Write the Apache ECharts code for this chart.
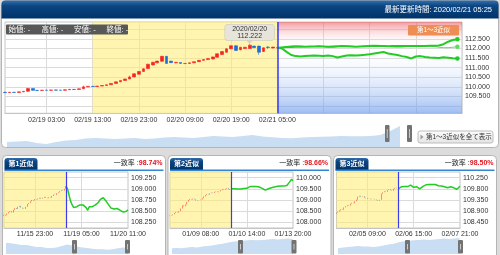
<!DOCTYPE html>
<html>
<head>
<meta charset="utf-8">
<script src="https://cdn.jsdelivr.net/npm/echarts@6/dist/echarts.min.js"></script>
<style>
html, body { margin: 0; padding: 0; background: #dcdcdc; }
#chart { width: 500px; height: 255px; }
</style>
</head>
<body>
<div id="chart"></div>
<script>
var chart = echarts.init(document.getElementById('chart'), null, { renderer: 'canvas' });

function pad(n) { return (n < 10 ? '0' : '') + n; }

// ---- main chart: hourly candles from 02/18 18:00 + forecast lines
var mainCats = [];
for (var h = 0; h < 100; h++) {
  var d = new Date(Date.UTC(2020, 1, 18, 18 + h));
  mainCats.push(pad(d.getUTCMonth() + 1) + '/' + pad(d.getUTCDate()) + ' ' + pad(d.getUTCHours()) + ':00');
}
var mainTickLabels = ['02/19 03:00', '02/19 13:00', '02/19 23:00', '02/20 09:00', '02/20 19:00', '02/21 05:00'];
var mainGridTimes = mainTickLabels.concat(['02/21 15:00', '02/22 01:00', '02/22 11:00', '02/22 21:00']);
var mainYTicks = [109.5, 110, 110.5, 111, 111.5, 112, 112.5];
var mainShadeFrom = '02/19 13:00';
var mainNow = '02/21 05:00';
var mainHigh = { time: '02/20 23:00', value: 112.222, date: '2020/02/20' };

// [open, close, low, high]
var mainOHLC = [
  [109.72, 109.70, 109.69, 109.74], [109.70, 109.72, 109.69, 109.73], [109.72, 109.71, 109.70, 109.73],
  [109.71, 109.74, 109.70, 109.75], [109.74, 109.77, 109.73, 109.78], [109.77, 109.92, 109.75, 109.94],
  [109.92, 109.82, 109.80, 109.93], [109.82, 109.81, 109.80, 109.83], [109.81, 109.83, 109.80, 109.84],
  [109.83, 109.82, 109.81, 109.84], [109.82, 109.84, 109.81, 109.85], [109.84, 109.83, 109.82, 109.85],
  [109.83, 109.82, 109.81, 109.84], [109.82, 109.85, 109.81, 109.86], [109.85, 109.87, 109.84, 109.88],
  [109.87, 109.86, 109.85, 109.89], [109.86, 109.90, 109.85, 109.91], [109.90, 110.00, 109.89, 110.06],
  [110.00, 110.03, 109.99, 110.04], [110.03, 110.02, 110.00, 110.04], [110.02, 110.04, 110.01, 110.05],
  [110.04, 110.07, 110.03, 110.08], [110.07, 110.11, 110.06, 110.12], [110.11, 110.18, 110.10, 110.19],
  [110.18, 110.26, 110.17, 110.27], [110.26, 110.33, 110.25, 110.34], [110.33, 110.41, 110.32, 110.42],
  [110.41, 110.52, 110.40, 110.58], [110.52, 110.68, 110.50, 110.70], [110.66, 110.80, 110.64, 110.82],
  [110.80, 110.94, 110.78, 110.96], [110.95, 111.18, 110.93, 111.20], [111.14, 111.28, 111.12, 111.30],
  [111.25, 111.34, 111.23, 111.36], [111.33, 111.59, 111.31, 111.61], [111.59, 111.22, 111.20, 111.61],
  [111.34, 111.26, 111.24, 111.36], [111.25, 111.28, 111.23, 111.29], [111.27, 111.22, 111.20, 111.28],
  [111.21, 111.22, 111.20, 111.23], [111.22, 111.25, 111.21, 111.26], [111.25, 111.31, 111.24, 111.32],
  [111.31, 111.38, 111.30, 111.40], [111.38, 111.42, 111.36, 111.44], [111.42, 111.47, 111.41, 111.49],
  [111.45, 111.56, 111.43, 111.57], [111.54, 111.72, 111.52, 111.74], [111.68, 111.84, 111.66, 111.86],
  [111.80, 111.98, 111.78, 112.00], [111.98, 112.14, 111.96, 112.16], [112.14, 111.89, 111.87, 112.16],
  [111.93, 112.06, 111.91, 112.08], [111.99, 112.06, 111.97, 112.08], [111.99, 112.17, 111.97, 112.222],
  [112.12, 112.04, 112.02, 112.14], [112.12, 111.80, 111.67, 112.14], [111.84, 112.03, 111.82, 112.05],
  [112.07, 112.05, 111.98, 112.12], [112.02, 112.07, 112.01, 112.08], [112.02, 112.04, 112.01, 112.05]
];

// forecast lines from 02/21 05:00
var mainLineA = [112.03, 112.05, 112.07, 112.08, 112.09, 112.10, 112.09, 112.10, 112.10, 112.11,
  112.10, 112.09, 112.10, 112.11, 112.12, 112.11, 112.10, 112.09, 112.10, 112.11,
  112.12, 112.12, 112.13, 112.12, 112.11, 112.12, 112.12, 112.13, 112.12, 112.12,
  112.13, 112.12, 112.13, 112.14, 112.14, 112.15, 112.22, 112.35, 112.44, 112.48];
var mainLineB = [112.03, 112.00, 111.82, 111.66, 111.60, 111.58, 111.60, 111.62, 111.63, 111.62,
  111.61, 111.63, 111.60, 111.53, 111.58, 111.63, 111.64, 111.63, 111.65, 111.67,
  111.70, 111.74, 111.78, 111.81, 111.74, 111.70, 111.66, 111.60, 111.55, 111.48,
  111.58, 111.60, 111.55, 111.53, 111.52, 111.50, 111.54, 111.52, 111.49, 111.47];
var mainLineC = [112.03, 112.06, 112.10, 112.14, 112.15, 112.12, 112.10, 112.08, 112.10, 112.12,
  112.10, 112.06, 112.05, 112.08, 112.12, 112.14, 112.12, 112.10, 112.11, 112.13,
  112.16, 112.17, 112.16, 112.14, 112.10, 112.07, 112.06, 112.07, 112.10, 112.12,
  112.12, 112.12, 112.13, 112.12, 112.10, 112.06, 112.04, 112.04, 112.06, 112.09];

var mainNav = [5, 5.5, 6, 4, 3, 5, 6.5, 7, 8.5, 9, 8.5, 8, 8.5, 9, 8, 8.5, 9.5, 10, 9.5, 9,
  10, 11, 10.5, 10, 11, 12, 10.5, 9.7, 9, 8.7, 9.5, 10, 10.3, 10.5, 11, 10.8, 10.7, 11, 12, 16, 21];

// ---- three similar past patterns: [open, close] candles, then the line that followed
var p1Ticks = { 20: '11/15 23:00', 50: '11/19 05:00', 80: '11/20 11:00' };
var p1YTicks = [108.25, 108.5, 108.75, 109.0, 109.25];
var p1Rate = '98.74%';
var p1Candles = [[108.40, 108.42], [108.42, 108.40], [108.41, 108.45], [108.45, 108.48], [108.48, 108.50],
  [108.50, 108.47], [108.47, 108.53], [108.53, 108.57], [108.57, 108.55], [108.55, 108.60],
  [108.60, 108.62], [108.62, 108.58], [108.58, 108.56], [108.56, 108.55], [108.55, 108.60],
  [108.60, 108.66], [108.66, 108.68], [108.68, 108.72], [108.72, 108.75], [108.75, 108.74],
  [108.74, 108.77], [108.77, 108.76], [108.76, 108.78], [108.78, 108.80], [108.80, 108.78],
  [108.78, 108.80], [108.80, 108.82], [108.82, 108.80], [108.80, 108.79], [108.79, 108.81],
  [108.81, 108.80], [108.80, 108.84], [108.84, 108.87], [108.87, 108.86], [108.86, 108.90],
  [108.90, 108.92], [108.92, 108.95], [108.95, 108.97], [108.97, 108.96], [108.96, 109.00],
  [109.00, 109.06]];
var p1Line = [109.06, 109.00, 108.85, 108.72, 108.64, 108.58, 108.60, 108.60, 108.62, 108.64,
  108.63, 108.64, 108.62, 108.58, 108.52, 108.60, 108.64, 108.60, 108.62, 108.64,
  108.66, 108.70, 108.76, 108.78, 108.80, 108.77, 108.72, 108.68, 108.62, 108.57,
  108.53, 108.55, 108.54, 108.56, 108.53, 108.52, 108.50, 108.48, 108.52, 108.50, 108.53];
var p1Nav = [12, 11.5, 10.5, 9.5, 9.5, 8.5, 7.5, 7.5, 6.5, 6.5, 7, 8.5, 10, 9, 8, 7, 6.5, 5.5, 5, 5, 4.5, 5, 6, 7, 6.5];

var p2Ticks = { 20: '01/09 08:00', 50: '01/10 14:00', 80: '01/13 20:00' };
var p2YTicks = [108.0, 108.5, 109.0, 109.5, 110.0];
var p2Rate = '98.66%';
var p2Candles = [[108.28, 108.30], [108.30, 108.32], [108.32, 108.36], [108.36, 108.42], [108.42, 108.46],
  [108.46, 108.44], [108.44, 108.50], [108.50, 108.62], [108.62, 108.76], [108.76, 108.72],
  [108.72, 108.80], [108.80, 108.92], [108.92, 109.00], [109.00, 109.04], [109.04, 109.02],
  [109.02, 109.06], [109.06, 109.03], [109.03, 108.98], [108.98, 109.00], [109.00, 108.99],
  [108.99, 109.02], [109.02, 109.08], [109.08, 109.16], [109.16, 109.22], [109.22, 109.26],
  [109.26, 109.24], [109.24, 109.30], [109.30, 109.33], [109.33, 109.31], [109.31, 109.36],
  [109.36, 109.38], [109.38, 109.35], [109.35, 109.38], [109.38, 109.44], [109.44, 109.48],
  [109.48, 109.46], [109.46, 109.50], [109.50, 109.53], [109.53, 109.48], [109.48, 109.45],
  [109.45, 109.50]];
var p2Line = [109.50, 109.49, 109.50, 109.48, 109.49, 109.50, 109.49, 109.50, 109.51, 109.50,
  109.52, 109.55, 109.60, 109.61, 109.60, 109.62, 109.60, 109.61, 109.58, 109.54,
  109.52, 109.47, 109.44, 109.47, 109.50, 109.52, 109.55, 109.57, 109.58, 109.60,
  109.61, 109.60, 109.62, 109.61, 109.62, 109.63, 109.65, 109.70, 109.82, 109.92, 109.86];
var p2Nav = [6, 6.5, 6, 7, 7.5, 7, 8, 8.5, 9, 10, 11, 12, 13, 13.5, 14, 14.5, 15, 14.5, 15, 15.5, 16, 15.5, 16, 16.5, 16];

var p3Ticks = { 20: '02/05 09:00', 50: '02/06 15:00', 80: '02/07 21:00' };
var p3YTicks = [108.45, 108.9, 109.35, 109.8, 110.25];
var p3Rate = '98.50%';
var p3Candles = [[108.80, 108.84], [108.84, 108.88], [108.88, 108.93], [108.93, 108.98], [108.98, 108.96],
  [108.96, 109.05], [109.05, 109.10], [109.10, 109.14], [109.14, 109.12], [109.12, 109.20],
  [109.20, 109.24], [109.24, 109.22], [109.22, 109.30], [109.30, 109.36], [109.36, 109.48],
  [109.48, 109.52], [109.52, 109.48], [109.48, 109.50], [109.50, 109.44], [109.44, 109.42],
  [109.42, 109.39], [109.39, 109.40], [109.40, 109.38], [109.38, 109.40], [109.40, 109.39],
  [109.39, 109.37], [109.37, 109.34], [109.34, 109.32], [109.32, 109.36], [109.36, 109.60],
  [109.60, 109.66], [109.66, 109.70], [109.70, 109.68], [109.68, 109.75], [109.75, 109.78],
  [109.78, 109.74], [109.74, 109.72], [109.72, 109.80], [109.80, 109.84], [109.84, 109.82],
  [109.82, 109.80]];
var p3Line = [109.80, 109.84, 109.88, 109.87, 109.89, 109.90, 109.89, 109.92, 109.95, 109.93,
  109.86, 109.84, 109.88, 109.86, 109.80, 109.85, 109.90, 109.93, 109.96, 109.98,
  109.97, 109.98, 109.97, 109.96, 109.97, 109.94, 109.92, 109.90, 109.91, 109.90,
  109.88, 109.85, 109.84, 109.86, 109.88, 109.84, 109.84, 109.82, 109.78, 109.86, 109.90];
var p3Nav = [6, 7, 7.5, 8, 8.5, 8, 8, 7.5, 8, 9, 10, 11, 12.5, 13.5, 14, 14.5, 15, 15.5, 15, 15.5, 16, 16.5, 16, 16.5, 17];

var UP = '#f52424', DOWN = '#1f6fd6', GREEN = '#22cc22', NOWLINE = '#3b3bf0';
var NUMFONT = '"Liberation Sans", Arial, sans-serif';
var JPFONT = '"Liberation Sans", "Noto Sans CJK JP", sans-serif';
var CLEAR = 'rgba(0,0,0,0)';
var YELLOW = 'rgba(255,238,120,0.58)';

function hasTick(list, v) {
  for (var i = 0; i < list.length; i++) if (Math.abs(list[i] - v) < 1e-6) return true;
  return false;
}

var grids = [], xAxes = [], yAxes = [], series = [];

// main grid
grids.push({ left: 5, top: 22, width: 457, height: 91.3, show: true, borderColor: '#c4c4c4', borderWidth: 1 });
xAxes.push({
  gridIndex: 0, type: 'category', data: mainCats, boundaryGap: false,
  axisLine: { lineStyle: { color: '#c4c4c4' } }, axisTick: { show: false },
  axisLabel: {
    interval: function (i, v) { return mainTickLabels.indexOf(v) >= 0; },
    fontSize: 7, color: '#333', margin: 3, fontFamily: NUMFONT
  },
  splitLine: { show: true, interval: function (i, v) { return mainGridTimes.indexOf(v) >= 0; }, lineStyle: { color: '#dadada' } }
});
yAxes.push({
  gridIndex: 0, type: 'value', position: 'right', min: 108.625, max: 113.375, interval: 0.125,
  axisLine: { show: false }, axisTick: { show: false },
  axisLabel: {
    margin: 3, fontSize: 7, color: '#333', fontFamily: NUMFONT,
    formatter: function (v) { return hasTick(mainYTicks, v) ? v.toFixed(3) : ''; }
  },
  splitLine: { lineStyle: { color: [CLEAR, CLEAR, CLEAR, '#dadada'] } }
});

var nowIdx = mainCats.indexOf(mainNow);
function lead(n) { var a = []; for (var i = 0; i < n; i++) a.push('-'); return a; }

series.push({
  type: 'candlestick', xAxisIndex: 0, yAxisIndex: 0, data: mainOHLC, barWidth: 3.2,
  itemStyle: { color: UP, color0: DOWN, borderColor: UP, borderColor0: DOWN, borderWidth: 0.6 },
  markArea: {
    silent: true,
    data: [
      [{ xAxis: mainShadeFrom, itemStyle: { color: YELLOW } }, { xAxis: mainNow }],
      [{
        xAxis: mainNow,
        itemStyle: {
          color: new echarts.graphic.LinearGradient(0, 0, 0, 1, [
            { offset: 0, color: 'rgba(235,85,95,0.6)' },
            { offset: 0.26, color: 'rgba(255,255,255,0)' },
            { offset: 1, color: 'rgba(100,150,235,0.62)' }
          ])
        }
      }, { xAxis: mainCats[mainCats.length - 1] }]
    ]
  },
  markLine: {
    silent: true, symbol: 'none', label: { show: false },
    lineStyle: { color: NOWLINE, width: 1.5, type: 'solid' },
    data: [{ xAxis: mainNow }]
  },
  markPoint: {
    silent: true,
    data: [{
      coord: [mainHigh.time, mainHigh.value], symbol: 'triangle', symbolRotate: 180,
      symbolSize: [7, 4], symbolOffset: [0, -2],
      itemStyle: { color: '#d9d5ca' },
      label: {
        show: true, position: 'top', distance: 0,
        formatter: mainHigh.date + '\n' + mainHigh.value.toFixed(3),
        backgroundColor: '#e7e4db', borderColor: '#cbc7bc', borderWidth: 0.6, borderRadius: 3,
        padding: [1, 7, 0, 7], fontSize: 7, lineHeight: 7.3, color: '#333', fontFamily: NUMFONT, align: 'center'
      }
    }]
  }
});

function forecastLine(vals, width, color, z) {
  var last = nowIdx + vals.length - 1;
  return {
    type: 'line', xAxisIndex: 0, yAxisIndex: 0, data: lead(nowIdx).concat(vals), z: z,
    symbol: 'circle', showAllSymbol: true,
    symbolSize: function (v, p) { return p.dataIndex === last ? 4.5 : 0; },
    itemStyle: { color: color }, lineStyle: { color: color, width: width }
  };
}
series.push(forecastLine(mainLineC, 1, '#5fdc5f', 3));
series.push(forecastLine(mainLineB, 2, GREEN, 4));
series.push(forecastLine(mainLineA, 2, GREEN, 4));

// main navigator shadow
grids.push({ left: 7, top: 124, width: 393, height: 23 });
xAxes.push({ gridIndex: 1, type: 'category', show: false, boundaryGap: false, data: mainNav.map(function (v, i) { return i; }) });
yAxes.push({ gridIndex: 1, type: 'value', show: false, min: 0, max: 23 });
series.push({
  type: 'line', xAxisIndex: 1, yAxisIndex: 1, data: mainNav, symbol: 'none',
  lineStyle: { width: 0 }, areaStyle: { color: '#c9ddf3', opacity: 1 }
});

// small panels
var panels = [
  { ticks: p1Ticks, yTicks: p1YTicks, min: 108.125, max: 109.375, step: 0.125, candles: p1Candles, line: p1Line, nav: p1Nav, left: 4, width: 124, navLeft: 6 },
  { ticks: p2Ticks, yTicks: p2YTicks, min: 107.75, max: 110.25, step: 0.25, candles: p2Candles, line: p2Line, nav: p2Nav, left: 170, width: 123, navLeft: 172 },
  { ticks: p3Ticks, yTicks: p3YTicks, min: 108.225, max: 110.475, step: 0.225, candles: p3Candles, line: p3Line, nav: p3Nav, left: 336.5, width: 123.5, navLeft: 338 }
];

panels.forEach(function (p, k) {
  var gi = 2 + k * 2;
  var n = p.candles.length + p.line.length - 1;
  var cats = [];
  for (var i = 0; i < n; i++) cats.push('c' + i);
  var splitAt = Object.keys(p.ticks).map(Number).filter(function (i) { return i < n - 1; });
  var startIdx = p.candles.length - 1;

  grids.push({ left: p.left, top: 172, width: p.width, height: 56, show: true, borderColor: '#c4c4c4', borderWidth: 1 });
  xAxes.push({
    gridIndex: gi, type: 'category', data: cats, boundaryGap: false,
    axisLine: { lineStyle: { color: '#c4c4c4' } }, axisTick: { show: false },
    axisLabel: {
      interval: function (i) { return !!p.ticks[i]; },
      formatter: function (v, i) { return p.ticks[i] || ''; },
      fontSize: 7, color: '#333', margin: 3, fontFamily: NUMFONT
    },
    splitLine: { show: true, interval: function (i) { return splitAt.indexOf(i) >= 0; }, lineStyle: { color: '#dadada' } }
  });
  yAxes.push({
    gridIndex: gi, type: 'value', position: 'right', min: p.min, max: p.max, interval: p.step,
    axisLine: { show: false }, axisTick: { show: false },
    axisLabel: {
      margin: 3, fontSize: 7, color: '#333', fontFamily: NUMFONT,
      formatter: function (v) { return hasTick(p.yTicks, v) ? v.toFixed(3) : ''; }
    },
    splitLine: { lineStyle: { color: [CLEAR, '#dadada'] } }
  });
  series.push({
    type: 'candlestick', xAxisIndex: gi, yAxisIndex: gi, barWidth: 1.3,
    data: p.candles.map(function (c) { return [c[0], c[1], Math.min(c[0], c[1]), Math.max(c[0], c[1])]; }),
    itemStyle: { color: UP, color0: DOWN, borderColor: UP, borderColor0: DOWN, borderWidth: 0.5 },
    markArea: { silent: true, data: [[{ xAxis: cats[0], itemStyle: { color: YELLOW } }, { xAxis: cats[startIdx] }]] },
    markLine: {
      silent: true, symbol: 'none', label: { show: false },
      lineStyle: { color: NOWLINE, width: 1.2, type: 'solid' }, data: [{ xAxis: cats[startIdx] }]
    }
  });
  series.push({
    type: 'line', xAxisIndex: gi, yAxisIndex: gi, data: lead(startIdx).concat(p.line),
    symbol: 'none', lineStyle: { color: GREEN, width: 1.5 }, z: 4
  });

  grids.push({ left: p.navLeft, top: 238, width: p.width - 2, height: 16 });
  xAxes.push({ gridIndex: gi + 1, type: 'category', show: false, boundaryGap: false, data: p.nav.map(function (v, i) { return i; }) });
  yAxes.push({ gridIndex: gi + 1, type: 'value', show: false, min: 0, max: 17 });
  series.push({
    type: 'line', xAxisIndex: gi + 1, yAxisIndex: gi + 1, data: p.nav, symbol: 'none',
    lineStyle: { width: 0 }, areaStyle: { color: '#c9ddf3', opacity: 1 }
  });
});

// ---- decorations
var navy = new echarts.graphic.LinearGradient(0, 0, 0, 1, [
  { offset: 0, color: '#3370ab' }, { offset: 0.3, color: '#0c4581' }, { offset: 1, color: '#00336a' }
]);
function txt(x, y, s, size, color, align, weight) {
  return {
    type: 'text', z: 60,
    style: {
      text: s, x: x, y: y, fill: color, font: (weight ? weight + ' ' : '') + size + 'px ' + JPFONT,
      align: align || 'left', textAlign: align || 'left', verticalAlign: 'middle', textVerticalAlign: 'middle'
    }
  };
}
function handle(x, y, w, hgt) {
  return [
    { type: 'rect', z: 60, shape: { x: x, y: y, width: w, height: hgt, r: 1 }, style: { fill: '#737373' } },
    { type: 'line', z: 61, shape: { x1: x + w / 2, y1: y + 4, x2: x + w / 2, y2: y + hgt - 4 }, style: { stroke: '#c8c8c8', lineWidth: 1 } }
  ];
}

var els = [
  { type: 'rect', z: -10, shape: { x: 1.5, y: 0.5, width: 497, height: 147, r: 4 }, style: { fill: '#fff', stroke: '#b5b5b5', lineWidth: 1 } },
  { type: 'rect', z: -9, shape: { x: 1.5, y: 0.5, width: 497, height: 18, r: [4, 4, 0, 0] }, style: { fill: navy } },
  txt(492, 10, '最新更新時間: 2020/02/21 05:25', 7.5, '#fff', 'right'),
  { type: 'rect', z: 60, shape: { x: 6, y: 24.5, width: 122, height: 10, r: 1 }, style: { fill: '#585858' } },
  txt(8.5, 29.7, '始値: -', 7.5, '#fff'),
  txt(41.5, 29.7, '高値: -', 7.5, '#fff'),
  txt(74, 29.7, '安値: -', 7.5, '#fff'),
  txt(106.5, 29.7, '終値: -', 7.5, '#fff'),
  { type: 'rect', z: 60, shape: { x: 408, y: 25, width: 51, height: 10.5, r: 1 }, style: { fill: '#ee8e55' } },
  txt(433.5, 30.4, '第1～3近似', 6.5, '#fff', 'center'),
  { type: 'rect', z: 60, shape: { x: 418, y: 131, width: 75, height: 12, r: 2 },
    style: { fill: new echarts.graphic.LinearGradient(0, 0, 0, 1, [{ offset: 0, color: '#fdfdfd' }, { offset: 1, color: '#e4e4e4' }]), stroke: '#bdbdbd', lineWidth: 1 } },
  { type: 'polygon', z: 61, shape: { points: [[420.5, 134.5], [423.5, 137], [420.5, 139.5]] }, style: { fill: '#9a9a9a' } },
  txt(426, 137.2, '第1～3近似を全て表示', 6.5, '#333')
].concat(handle(385, 125, 4.5, 17), handle(407, 125, 5, 17));

var boxes = [2.5, 168, 333.5];
var rates = [p1Rate, p2Rate, p3Rate];
var navHandles = [[72, 125], [238, 291.5], [405, 458]];
boxes.forEach(function (bx, k) {
  els.push({ type: 'rect', z: -10, shape: { x: bx, y: 155.5, width: 163, height: 110, r: 4 }, style: { fill: '#fff', stroke: '#b5b5b5', lineWidth: 1 } });
  els.push({ type: 'rect', z: 60, shape: { x: bx + 2, y: 158, width: 33, height: 12, r: [3, 3, 0, 0] }, style: { fill: navy } });
  els.push(txt(bx + 18.5, 164.3, '第' + (k + 1) + '近似', 7, '#fff', 'center', 'bold'));
  els.push({ type: 'line', z: 60, shape: { x1: bx + 2, y1: 170.3, x2: bx + 161, y2: 170.3 }, style: { stroke: '#3486d2', lineWidth: 1.4 } });
  els.push({
    type: 'text', z: 60,
    style: {
      x: bx + 160, y: 163.5, align: 'right', textAlign: 'right', verticalAlign: 'middle', textVerticalAlign: 'middle',
      text: '{a|一致率 :}{b|' + rates[k] + '}',
      rich: {
        a: { fill: '#222', fontSize: 7, fontFamily: JPFONT },
        b: { fill: '#e3141f', fontSize: 7, fontWeight: 'bold', fontFamily: NUMFONT }
      }
    }
  });
  els = els.concat(handle(navHandles[k][0], 240, 5, 13.5), handle(navHandles[k][1], 240, 5, 13.5));
});

chart.setOption({
  animation: false,
  backgroundColor: '#dcdcdc',
  grid: grids,
  xAxis: xAxes,
  yAxis: yAxes,
  series: series,
  graphic: { elements: els }
});
</script>
</body>
</html>
